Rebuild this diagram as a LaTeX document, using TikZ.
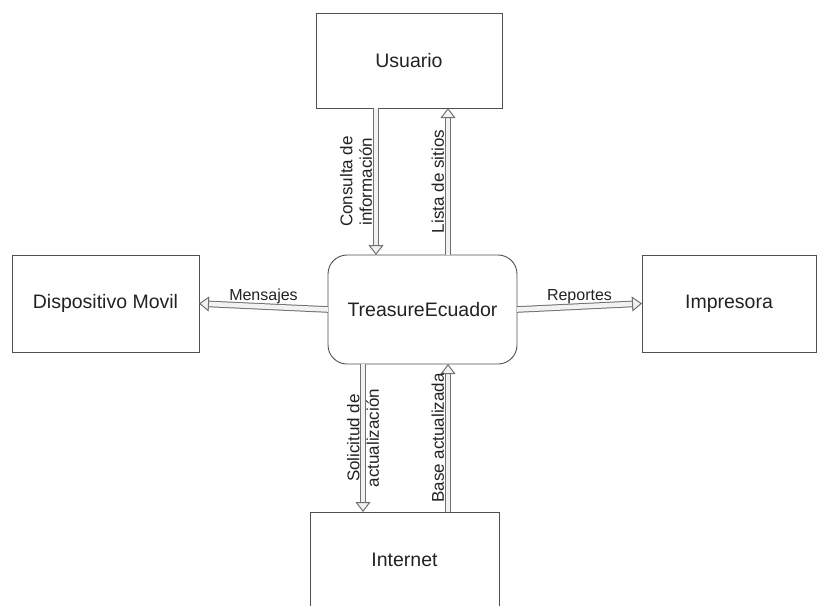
\documentclass[tikz,border=0pt]{standalone}
\usepackage{fontspec}
\setmainfont{Liberation Sans}
\usetikzlibrary{arrows.meta,calc}
\definecolor{linegray}{HTML}{505050}
\definecolor{arrowgray}{HTML}{707070}
\definecolor{shaftgray}{HTML}{F2F2F2}
\definecolor{textgray}{HTML}{222222}
\tikzset{
	entity/.style={draw=linegray, line width=0.9pt, rectangle, outer sep=0pt, text=textgray, font=\fontsize{19.5}{23}\selectfont},
	core/.style={entity, rounded corners=19pt},
	flow/.style={draw=arrowgray, line width=1pt, double=shaftgray, double distance=4.6pt, -{Triangle[line width=1pt, fill=shaftgray, length=10pt, width=15pt]}},
	flowlabel/.style={text=textgray, font=\fontsize{16}{19}\selectfont, inner sep=1.5pt, align=center},
	uplabel/.style={flowlabel, font=\fontsize{17}{19.5}\selectfont, rotate=90}
}

\begin{document}
\begin{tikzpicture}[x=1pt, y=-1pt]
		%%%%% START %%%%%
		
		\useasboundingbox (0, 0) rectangle (818, 605);
		\clip (0, 0) rectangle (818, 605);
		
		\node[core, minimum width=189pt, minimum height=109pt] (treasure) at (422.5, 309.5) {TreasureEcuador};
		
		\node[entity, minimum width=186pt, minimum height=95pt] (usuario) at (409, 60.5) {Usuario};
		\node[entity, minimum width=187pt, minimum height=97pt] (movil) at (105.5, 303.5) {Dispositivo Movil};
		\node[entity, minimum width=174pt, minimum height=97pt] (impresora) at (729, 303.5) {Impresora};
		\node[entity, minimum width=189pt, minimum height=96pt] (internet) at (404.5, 560) {Internet};
		
		\draw[flow] ([xshift=-33pt]usuario.south) -- ([xshift=-33pt]usuario.south |- treasure.north)
			node[uplabel, midway, anchor=south, yshift=2pt] {Consulta de\\información};
		\draw[flow] ([xshift=39pt]usuario.south |- treasure.north) -- ([xshift=39pt]usuario.south)
			node[uplabel, midway, anchor=south, yshift=2pt] {Lista de sitios};
		
		\draw[flow] ([xshift=-41.5pt]internet.north |- treasure.south) -- ([xshift=-41.5pt]internet.north)
			node[uplabel, midway] {Solicitud de\\actualización};
		\draw[flow] ([xshift=43.5pt]internet.north) -- ([xshift=43.5pt]internet.north |- treasure.south)
			node[uplabel, midway, anchor=south, yshift=2pt] {Base actualizada};
		
		\draw[flow] (treasure.west) -- (movil.east)
			node[flowlabel, midway, anchor=south, yshift=1pt] {Mensajes};
		\draw[flow] (treasure.east) -- (impresora.west)
			node[flowlabel, midway, anchor=south, yshift=1pt] {Reportes};
		
		%%%%% END %%%%%
\end{tikzpicture}
\end{document}
